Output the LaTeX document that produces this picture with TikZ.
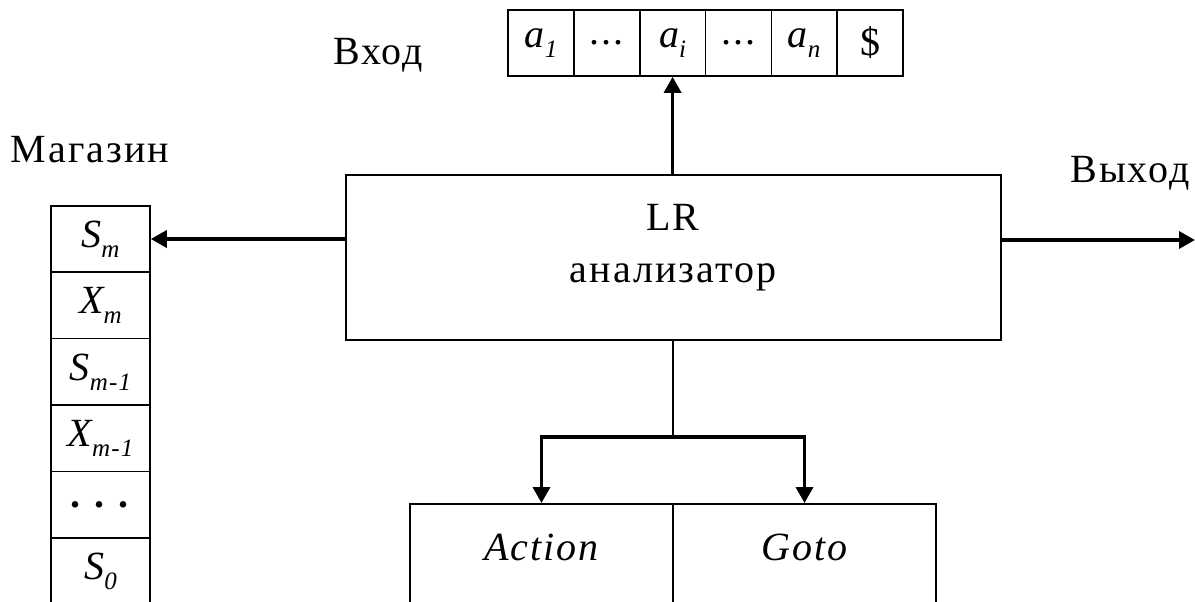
\documentclass[tikz,border=0pt]{standalone}
\usepackage{fontspec}
\setmainfont[LetterSpace=5]{Liberation Serif}
\usetikzlibrary{arrows.meta,calc}
\newcommand\lowsub[1]{\raisebox{-0.25em}{\fontsize{25}{25}\selectfont\itshape #1}}
\begin{document}
\begin{tikzpicture}[x=1pt,y=-1pt,
  font=\fontsize{40}{44}\selectfont,
  cell/.style={draw, line width=1.6pt, inner sep=0pt},
  tapecell/.style={cell, minimum width=65.8pt, minimum height=66pt},
  stackcell/.style={cell, minimum width=99pt, minimum height=66.4pt},
  arr/.style={line width=3.5pt, -{Triangle[length=16pt,width=17pt]}},
  stem/.style={line width=1.6pt},
  lbl/.style={inner sep=0pt, anchor=base}]
\useasboundingbox (0,0) rectangle (1195,602);
\clip (0,0) rectangle (1195,602);
% input tape
\node[tapecell] (t1) at (541,43) {\itshape a\lowsub{1}};
\node[tapecell] (t2) at (606.8,43) {...};
\node[tapecell] (t3) at (672.6,43) {\itshape a\lowsub{i}};
\node[tapecell] (t4) at (738.4,43) {...};
\node[tapecell] (t5) at (804.2,43) {\itshape a\lowsub{n}};
\node[tapecell] (t6) at (870,43) {\$};
\node[lbl] (inlbl) at (378,65) {Вход};
% main box
\node[cell, minimum width=655pt, minimum height=165pt] (main) at (673.5,257.5) {};
\node[lbl] (lr) at (673,230) {LR};
\node[lbl] (an) at (673,282) {анализатор};
% stack
\node[lbl] (stlbl) at (90,162) {Магазин};
\node[stackcell] (s1) at (100.5,239) {\itshape S\lowsub{m}};
\node[stackcell] (s2) at (100.5,305.4) {\itshape X\lowsub{m}};
\node[stackcell] (s3) at (100.5,371.8) {\itshape S\lowsub{m-1}};
\node[stackcell] (s4) at (100.5,438.2) {\itshape X\lowsub{m-1}};
\node[stackcell] (s5) at (100.5,504.6) {\textbf{.\hspace{0.35em}.\hspace{0.35em}.}};
\node[stackcell] (s6) at (100.5,571) {\itshape S\lowsub{0}};
% output
\node[lbl] (outlbl) at (1130,182) {Выход};
\coordinate (out) at (1195,240);
% tables
\node[cell, minimum width=263pt, minimum height=140pt, anchor=north] (act) at (541.5,503) {};
\node[cell, minimum width=263pt, minimum height=140pt, anchor=north] (got) at (804.5,503) {};
\node[lbl] (actt) at (541.5,560) {\itshape Action};
\node[lbl] (gott) at (804.5,560) {\itshape Goto};
\coordinate (br) at (673,437);
% connectors
\draw[arr] (main.north -| t3) -- (t3.south);
\draw[arr] (main.west |- s1) -- (s1.east);
\draw[arr] (main.east |- out) -- (out);
\draw[stem] (main.south -| br) -- (br);
\draw[arr] (br) -| (act.north);
\draw[arr] (br) -| (got.north);
\end{tikzpicture}
\end{document}
